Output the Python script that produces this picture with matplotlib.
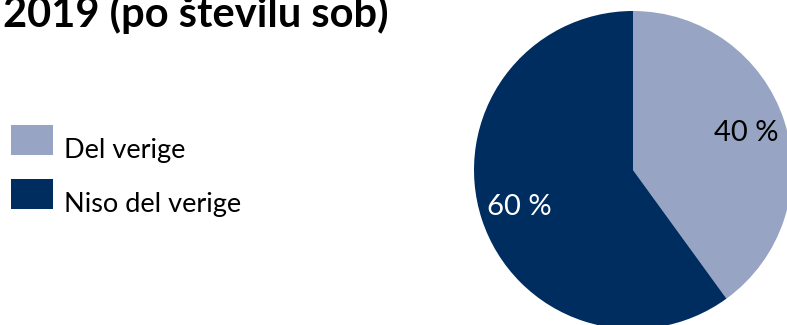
import matplotlib.pyplot as plt
import matplotlib.transforms as mtransforms

plt.rcParams['font.family'] = ['Lato', 'DejaVu Sans']

title = '2019 (po številu sob)'
labels = ['Del verige', 'Niso del verige']
shares = [40, 60]
colors = ['#97a4c3', '#002d5f']
pct_colors = ['black', 'white']

W, H = 787, 325
fig = plt.figure(figsize=(W / 100, H / 100), dpi=100)

# pie: center (633, 170) px, radius 159 px
cx, cy, r = 633, 170, 159
ax = fig.add_axes([(cx - r) / W, (H - cy - r) / H, 2 * r / W, 2 * r / H])
wedges, texts, autotexts = ax.pie(
    shares, colors=colors, startangle=90, counterclock=False,
    autopct=lambda p: f'{p:.0f} %', pctdistance=0.75,
    wedgeprops=dict(linewidth=0),
    textprops=dict(fontsize=21))
for t, c in zip(autotexts, pct_colors):
    t.set_color(c)
ax.set_xlim(-1, 1)
ax.set_ylim(-1, 1)
ax.set_aspect('equal')

fig.text(3 / W, 1 - 27 / H, title, fontsize=30, fontweight='bold',
         va='baseline', ha='left')

leg = fig.legend(wedges, labels, loc='upper left',
                 bbox_to_anchor=(3 / W, 1 - 117 / H),
                 frameon=False, fontsize=19.5,
                 handlelength=1.55, handleheight=1.3,
                 handletextpad=0.4, labelspacing=0.9,
                 borderaxespad=0, borderpad=0.3)
# labels sit a bit lower than the colour boxes
shift = mtransforms.ScaledTranslation(0, -9 / 100, fig.dpi_scale_trans)
for t in leg.get_texts():
    t.set_transform(t.get_transform() + shift)

fig.savefig('out.png', dpi=100)
